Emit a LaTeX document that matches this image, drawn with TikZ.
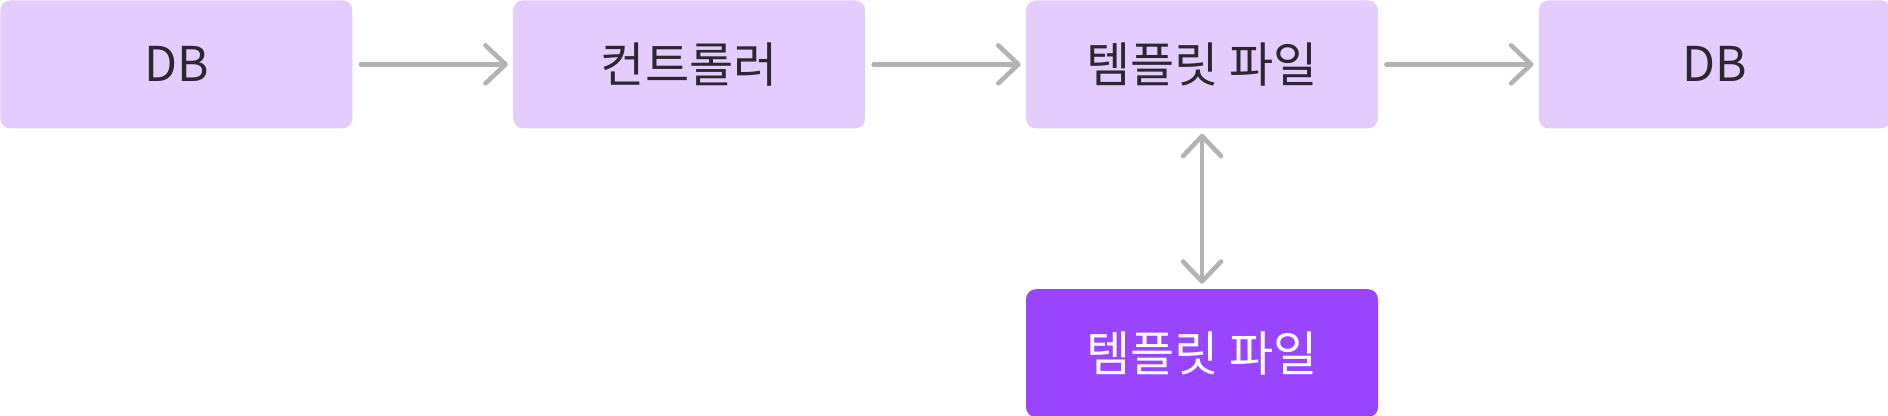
\documentclass[tikz,border=0pt]{standalone}
\usepackage{fontspec}
\setmainfont{Noto Sans CJK KR}
\usetikzlibrary{positioning,arrows.meta}
\definecolor{boxlight}{HTML}{E4CCFF}
\definecolor{boxdark}{HTML}{9945FF}
\definecolor{arrowgray}{HTML}{B3B3B3}
\definecolor{textdark}{HTML}{2B2630}

\begin{document}
\begin{tikzpicture}[node distance=80pt,
  >={Straight Barb[length=10pt,width=19pt,round]},
  stage/.style={rectangle, rounded corners=5pt, minimum width=176pt,
    minimum height=64pt, inner sep=0pt, fill=boxlight, text=textdark,
    font=\fontsize{24}{28}\selectfont},
  flow/.style={draw=arrowgray, line width=2.3pt, line cap=round,
    shorten <=4pt, shorten >=2.5pt}]
 \useasboundingbox (0,0) rectangle (944pt,-208pt);
 % top row
 \node [stage, anchor=north west] (db1) at (0,0) {DB};
 \node [stage, right=of db1] (ctrl) {컨트롤러};
 \node [stage, right=of ctrl] (tmpl) {템플릿 파일};
 \node [stage, right=of tmpl] (db2) {DB};
 % file below
 \node [stage, fill=boxdark, text=white, below=of tmpl] (file) {템플릿 파일};
 \draw [flow, ->] (db1) -- (ctrl);
 \draw [flow, ->] (ctrl) -- (tmpl);
 \draw [flow, ->] (tmpl) -- (db2);
 \draw [flow, <->, shorten <=2.5pt] (tmpl) -- (file);
\end{tikzpicture}
\end{document}
